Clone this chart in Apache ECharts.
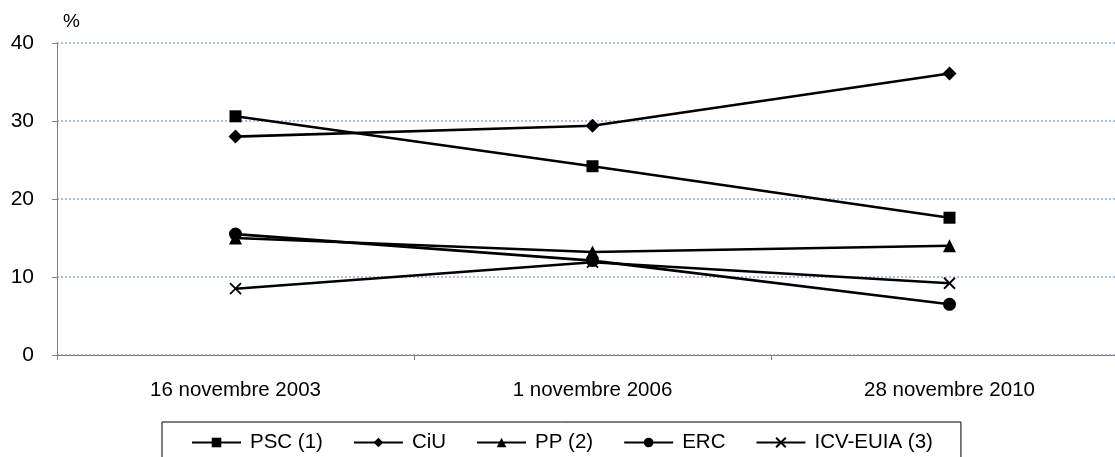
<!DOCTYPE html>
<html>
<head>
<meta charset="utf-8">
<script src="https://cdn.jsdelivr.net/npm/echarts@6/dist/echarts.min.js"></script>
<style>html,body{margin:0;padding:0;background:#fff;}#c{width:1115px;height:457px;}</style>
</head>
<body>
<div id="c"></div>
<script>
var categories = ['16 novembre 2003', '1 novembre 2006', '28 novembre 2010'];
var psc = [30.6, 24.2, 17.6];
var ciu = [28.0, 29.4, 36.1];
var pp = [15.0, 13.2, 14.0];
var erc = [15.5, 12.1, 6.5];
var icv = [8.5, 11.9, 9.2];
var yTicks = [0, 10, 20, 30, 40];

var FONT = '"Liberation Sans", Arial, sans-serif';
var crossPath = 'path://M0 0L10 10M10 0L0 10';

function mk(name, data, symbol, size, extra) {
  var s = {
    name: name, type: 'line', data: data,
    symbol: symbol, symbolSize: size,
    lineStyle: { color: '#000', width: 2.6 },
    itemStyle: { color: '#000' },
    z: 3
  };
  if (extra) { for (var k in extra) s[k] = extra[k]; }
  return s;
}

var chart = echarts.init(document.getElementById('c'));
chart.setOption({
  animation: false,
  backgroundColor: '#fff',
  textStyle: { fontFamily: FONT },
  grid: { left: 57, width: 1071, top: 43, height: 312, containLabel: false, outerBoundsMode: 'none' },
  graphic: [{
    type: 'text', left: 63, top: 12,
    style: { text: '%', font: '19px ' + FONT, fill: '#000' }
  }],
  xAxis: {
    type: 'category', data: categories, boundaryGap: true,
    axisLine: { lineStyle: { color: '#808080', width: 1 } },
    axisTick: { show: true, length: 5, lineStyle: { color: '#808080' } },
    axisLabel: { color: '#000', fontSize: 20.5, fontFamily: FONT, margin: 25 },
    splitLine: { show: false }
  },
  yAxis: {
    type: 'value', min: yTicks[0], max: yTicks[yTicks.length - 1], interval: 10,
    axisLine: { show: true, lineStyle: { color: '#808080', width: 1 } },
    axisTick: { show: true, length: 5, lineStyle: { color: '#808080' } },
    axisLabel: { color: '#000', fontSize: 21, fontFamily: FONT, margin: 23 },
    splitLine: { show: true, lineStyle: { color: '#A8C1EB', width: 2, type: [2, 2] } }
  },
  legend: {
    left: 162, top: 422,
    padding: [10, 28, 24, 29],
    borderColor: '#000', borderWidth: 1,
    itemWidth: 49, itemHeight: 12, itemGap: 30,
    textStyle: { color: '#000', fontSize: 20.5, fontFamily: FONT, padding: [0, 0, 0, 4] },
    data: ['PSC (1)', 'CiU', 'PP (2)', 'ERC', 'ICV-EUIA (3)']
  },
  series: [
    mk('PSC (1)', psc, 'rect', 12),
    mk('CiU', ciu, 'diamond', 14),
    mk('PP (2)', pp, 'triangle', 13),
    mk('ERC', erc, 'circle', 13),
    mk('ICV-EUIA (3)', icv, crossPath, 11, {
      itemStyle: { color: 'none', borderColor: '#000', borderWidth: 1.8 }
    })
  ]
});
</script>
</body>
</html>
